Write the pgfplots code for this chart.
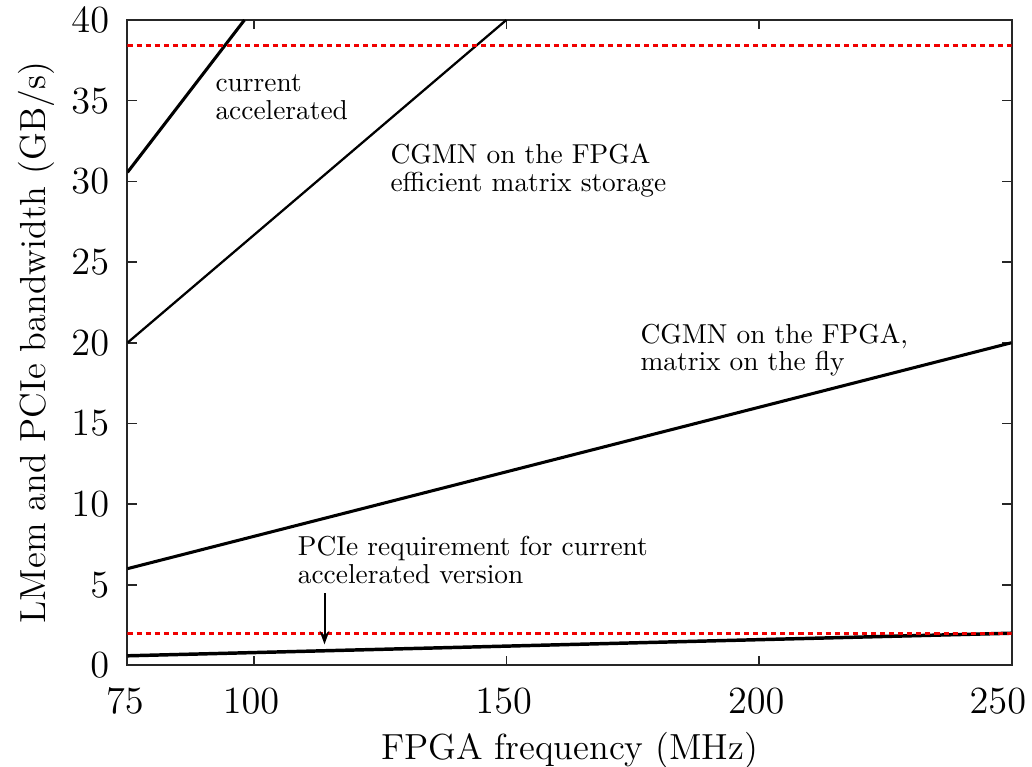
\documentclass[border=0pt]{standalone}
\usepackage{pgfplots}
\pgfplotsset{compat=1.18}
\usetikzlibrary{arrows.meta}
\definecolor{reqred}{RGB}{240,0,0}

\newcommand{\bigfont}{\fontsize{13.6}{16}\selectfont}
\newcommand{\notefont}{\fontsize{10.27}{12}\selectfont}

\begin{document}
\begin{tikzpicture}
\begin{axis}[
  scale only axis,
  width=331.5pt, height=242.06pt,
  xmin=75, xmax=250, ymin=0, ymax=40,
  xtick={75,100,150,200},
  extra x ticks={250},
  extra x tick style={xticklabel style={xshift=-4.1pt}},
  ytick={0,5,...,40},
  tick align=inside,
  major tick length=3.4pt,
  axis line style={line width=0.75pt, black!85},
  every tick/.style={black!85, line width=0.6pt},
  tick label style={font=\bigfont},
  xticklabel style={anchor=north, inner sep=0pt, yshift=-8.44pt, xshift=-1pt},
  yticklabel style={anchor=east, inner sep=0pt, xshift=-6.7pt},
  xlabel={FPGA frequency (MHz)},
  ylabel={LMem and PCIe bandwidth (GB/s)},
  every axis x label/.style={at={(axis description cs:0.5,0)}, anchor=base, yshift=-35.4pt, font=\bigfont},
  every axis y label/.style={at={(axis description cs:0,0.5)}, xshift=-30.9pt, rotate=90, anchor=base, font=\bigfont},
]
% bandwidth needed by each design
\addplot[black, line width=1.15pt] coordinates {(75,30.56) (98.16,40)};
\addplot[black, line width=0.85pt] coordinates {(75,20) (150,40)};
\addplot[black, line width=1.15pt] coordinates {(75,6) (250,20)};
\addplot[black, line width=1.3pt] coordinates {(75,0.6) (250,2)};
% available LMem and PCIe bandwidth
\addplot[reqred, line width=1pt, dash pattern=on 1.9pt off 1.5pt] coordinates {(75,38.4) (250,38.4)};
\addplot[reqred, line width=1pt, dash pattern=on 1.9pt off 1.5pt] coordinates {(75,2) (250,2)};

\node[anchor=base west, inner sep=0pt, font=\notefont] at (axis cs:92.32,35.54) {current};
\node[anchor=base west, inner sep=0pt, font=\notefont] at (axis cs:92.32,33.86) {accelerated};
\node[anchor=base west, inner sep=0pt, font=\notefont] at (axis cs:126.97,31.12) {CGMN on the FPGA};
\node[anchor=base west, inner sep=0pt, font=\notefont] at (axis cs:126.97,29.40) {efficient matrix storage};
\node[anchor=base west, inner sep=0pt, font=\notefont] at (axis cs:176.47,19.97) {CGMN on the FPGA,};
\node[anchor=base west, inner sep=0pt, font=\notefont] at (axis cs:176.47,18.25) {matrix on the fly};
\node[anchor=base west, inner sep=0pt, font=\notefont] at (axis cs:108.62,6.80) {PCIe requirement for current};
\node[anchor=base west, inner sep=0pt, font=\notefont] at (axis cs:108.62,5.09) {accelerated version};
\draw[black, line width=0.75pt, -{Stealth[length=5pt, width=3.6pt]}] (axis cs:114,4.47) -- (axis cs:114,1.31);
\end{axis}
\pgfresetboundingbox
\path[use as bounding box] ([xshift=-47.81pt, yshift=-38.06pt]current axis.south west) rectangle ([xshift=7.69pt, yshift=7.5pt]current axis.north east);
\end{tikzpicture}
\end{document}
